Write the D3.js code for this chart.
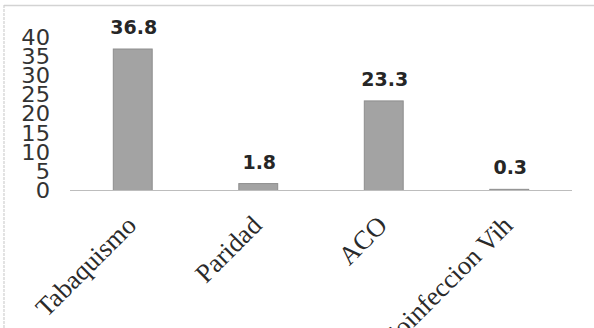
<!DOCTYPE html>
<html><head><meta charset="utf-8">
<script src="https://cdn.jsdelivr.net/npm/d3@7/dist/d3.min.js"></script>
<style>html,body{margin:0;padding:0;background:#fff;}svg{display:block;}</style>
</head><body>
<script>
const categories = ["Tabaquismo", "Paridad", "ACO", "Coinfeccion Vih"];
const values = [36.8, 1.8, 23.3, 0.3];
const valueLabels = ["36.8", "1.8", "23.3", "0.3"];
const yTicks = [0, 5, 10, 15, 20, 25, 30, 35, 40];

const W = 594, H = 328;
const svg = d3.select("body").append("svg").attr("width", W).attr("height", H);

// frame (top + left edges)
svg.append("line").attr("x1", 4).attr("x2", W).attr("y1", 5.5).attr("y2", 5.5)
  .attr("stroke", "#d3d3d3").attr("stroke-width", 1.5);
svg.append("line").attr("x1", 4).attr("x2", 4).attr("y1", 5).attr("y2", H)
  .attr("stroke", "#d0d0d0").attr("stroke-width", 1.2).attr("stroke-dasharray", "3,1");

const x = d3.scaleBand().domain(categories).range([70, 572]).paddingInner(0.69).paddingOuter(0.345);
const y = d3.scaleLinear().domain([0, 40]).range([190.5, 36.7]);

// y axis labels
const yAxis = d3.axisLeft(y).tickValues(yTicks).tickSize(0).tickPadding(0);
const gy = svg.append("g").attr("transform", "translate(50,0)").call(yAxis);
gy.select(".domain").remove();
gy.selectAll("text").attr("font-family", "DejaVu Sans, Verdana, sans-serif")
  .attr("font-size", 20.5).attr("fill", "#333").attr("dy", "0.36em")
  .attr("transform", "scale(1.1,1)").attr("x", 0);

// bars
svg.append("g").selectAll("rect").data(values).join("rect")
  .attr("x", (d, i) => x(categories[i]))
  .attr("width", x.bandwidth())
  .attr("y", d => y(d))
  .attr("height", d => y(0) - y(d))
  .attr("fill", "#a3a3a3").attr("stroke", "#8e8e8e").attr("stroke-width", 1);

// baseline
const xAxis = d3.axisBottom(x).tickSize(0).tickFormat("");
const gx = svg.append("g").attr("transform", `translate(0,${y(0)})`).call(xAxis);
gx.select(".domain").attr("stroke", "#bdbdbd").attr("stroke-width", 1.2).attr("d", "M70,0H572");

// value labels
svg.append("g").selectAll("text").data(values).join("text")
  .attr("x", (d, i) => x(categories[i]) + x.bandwidth() / 2 + 1)
  .attr("y", d => y(d) - 15)
  .attr("text-anchor", "middle")
  .attr("font-family", "DejaVu Sans, Verdana, sans-serif")
  .attr("font-weight", "bold").attr("font-size", 19).attr("fill", "#262626")
  .text((d, i) => valueLabels[i]);

// category labels
svg.append("g").selectAll("text").data(categories).join("text")
  .attr("transform", d => `translate(${x(d) + x.bandwidth() / 2 + 5},227) rotate(-45)`)
  .attr("text-anchor", "end")
  .attr("font-family", "Liberation Serif, serif")
  .attr("font-size", 26.5).attr("fill", "#2a2a2a")
  .text(d => d);
</script>
</body></html>
